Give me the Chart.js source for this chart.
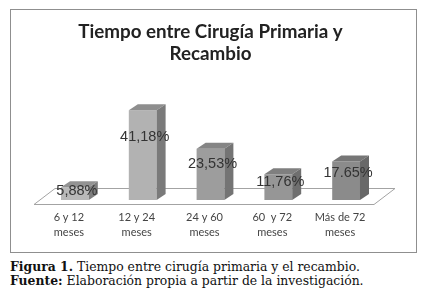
<!DOCTYPE html>
<html>
<head>
<meta charset="utf-8">
<script src="https://cdn.jsdelivr.net/npm/chart.js@4"></script>
<style>
  body { margin: 0; background: #fff; width: 424px; height: 299px; overflow: hidden; position: relative; }
  #box { position: absolute; left: 10px; top: 9px; width: 405px; height: 242px; border: 1px solid #8f8f8f; }
  #caption { position: absolute; left: 10px; top: 260px; font-family: "DejaVu Serif";
             font-size: 12.4px; line-height: 13.5px; color: #111; white-space: nowrap; }
</style>
</head>
<body>
<div id="box"><canvas id="barChart" width="405" height="242"></canvas></div>
<div id="caption"><b>Figura 1.</b> Tiempo entre cirugía primaria y el recambio.<br><b>Fuente:</b> Elaboración propia a partir de la investigación.</div>
<script>
// data
const categories = [["6 y 12", "meses"], ["12 y 24", "meses"], ["24 y 60", "meses"], ["60  y 72", "meses"], ["Más de 72", "meses"]];
const values = [5.88, 41.18, 23.53, 11.76, 17.65];
const valueLabels = ["5,88%", "41,18%", "23,53%", "11,76%", "17.65%"];

// face colours (front / top / side)
const frontColors = ["#b9b9b9", "#b2b2b2", "#9d9d9d", "#969696", "#8b8b8b"];
const topColors = ["#939393", "#8e8e8e", "#858585", "#7f7f7f", "#767676"];
const sideColors = ["#7e7e7e", "#7a7a7a", "#747474", "#6f6f6f", "#686868"];

const depthX = 9;
const depthY = 6;

// draws the floor, the top/side faces of the bars and the value labels
const bar3d = {
  id: "bar3d",
  beforeDatasetsDraw(chart) {
    const ctx = chart.ctx;
    const a = chart.chartArea;
    const base = a.bottom;
    ctx.save();
    ctx.strokeStyle = "#a3a3a3";
    ctx.lineWidth = 1;
    ctx.beginPath();
    ctx.moveTo(a.left - 7, base + 4.5);
    ctx.lineTo(a.right - 6, base + 4.5);
    ctx.lineTo(a.right + 15, base - 11.5);
    ctx.lineTo(a.left + 14, base - 11.5);
    ctx.closePath();
    ctx.stroke();
    ctx.restore();
  },
  afterDatasetsDraw(chart) {
    const ctx = chart.ctx;
    const meta = chart.getDatasetMeta(0);
    ctx.save();
    meta.data.forEach((bar, i) => {
      const x0 = bar.x - bar.width / 2;
      const x1 = bar.x + bar.width / 2;
      const top = bar.y;
      const base = bar.base;
      // top face
      ctx.fillStyle = topColors[i];
      ctx.beginPath();
      ctx.moveTo(x0, top);
      ctx.lineTo(x1, top);
      ctx.lineTo(x1 + depthX, top - depthY);
      ctx.lineTo(x0 + depthX, top - depthY);
      ctx.closePath();
      ctx.fill();
      // side face
      ctx.fillStyle = sideColors[i];
      ctx.beginPath();
      ctx.moveTo(x1, top);
      ctx.lineTo(x1 + depthX, top - depthY);
      ctx.lineTo(x1 + depthX, base - depthY);
      ctx.lineTo(x1, base);
      ctx.closePath();
      ctx.fill();
    });
    ctx.font = '14.5px "Liberation Sans"';
    ctx.fillStyle = "#333";
    ctx.textAlign = "center";
    ctx.textBaseline = "middle";
    meta.data.forEach((bar, i) => {
      const y = bar.base - 0.7 * (bar.base - bar.y);
      ctx.fillText(valueLabels[i], bar.x + 2, y);
    });
    ctx.restore();
  },
};

const ctx = document.getElementById("barChart").getContext("2d");
const chart = new Chart(ctx, {
  type: "bar",
  data: {
    labels: categories,
    datasets: [
      {
        data: values,
        backgroundColor: frontColors,
        borderWidth: 0,
        barPercentage: 0.41,
        categoryPercentage: 1,
      },
    ],
  },
  options: {
    responsive: false,
    animation: false,
    layout: { padding: { left: 30, right: 36, top: 0, bottom: 2 } },
    plugins: {
      legend: { display: false },
      tooltip: { enabled: false },
      title: {
        display: true,
        text: ["Tiempo entre Cirugía Primaria y", "Recambio"],
        color: "#222",
        font: { family: "Lato", size: 18.8, weight: "bold", lineHeight: 1.22 },
        padding: { top: 10, bottom: 36 },
      },
    },
    scales: {
      y: { display: false, min: 0, max: 45 },
      x: {
        grid: { display: false, drawTicks: false },
        border: { display: false },
        ticks: {
          color: "#444",
          font: { family: "Lato", size: 11, lineHeight: "15px" },
          padding: 10,
          labelOffset: -6,
          maxRotation: 0,
          autoSkip: false,
        },
      },
    },
  },
  plugins: [bar3d],
});
</script>
</body>
</html>
